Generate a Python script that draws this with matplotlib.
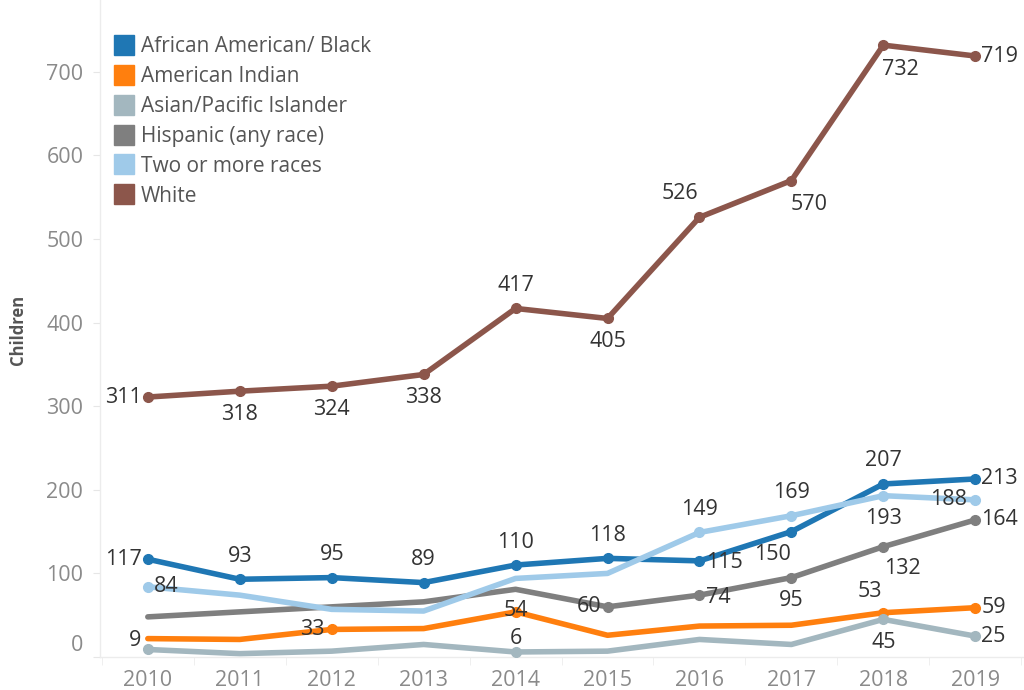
import matplotlib.pyplot as plt
from matplotlib.lines import Line2D
from matplotlib.transforms import ScaledTranslation

plt.rcParams['font.family'] = ['Open Sans', 'DejaVu Sans']

years = [2010, 2011, 2012, 2013, 2014, 2015, 2016, 2017, 2018, 2019]

black = [117, 93, 95, 89, 110, 118, 115, 150, 207, 213]
am_indian = [22, 21, 33, 34, 54, 26, 37, 38, 53, 59]
asian = [9, 4, 7, 15, 6, 7, 21, 15, 45, 25]
hispanic = [48, 54, 60, 66, 81, 60, 74, 95, 132, 164]
two_more = [84, 74, 57, 55, 94, 100, 149, 169, 193, 188]
white = [311, 318, 324, 338, 417, 405, 526, 570, 732, 719]

series_names = ['African American/ Black', 'American Indian', 'Asian/Pacific Islander',
                'Hispanic (any race)', 'Two or more races', 'White']
series_values = [black, am_indian, asian, hispanic, two_more, white]
colors = ['#1f77b4', '#ff7f0e', '#a3b7bf', '#7f7f7f', '#9fcae9', '#8c564b']

# which points carry a label (and a dot), by year index
labelled = {
    'African American/ Black': list(range(10)),
    'American Indian': [2, 4, 8, 9],
    'Asian/Pacific Islander': [0, 4, 8, 9],
    'Hispanic (any race)': [5, 6, 7, 8, 9],
    'Two or more races': [0, 6, 7, 8, 9],
    'White': list(range(10)),
}

# label placement: (dx, dy) in pixels, horizontal alignment
R = (6, 0, 'left')
L = (-6, 0, 'right')
UP = (0, 23, 'center')
DN = (0, -23, 'center')
placement = {
    'African American/ Black': [L, UP, UP, UP, UP, UP, (7, -2, 'left'), (-19, -23, 'center'), UP, R],
    'American Indian': {2: (-7, 0, 'right'), 4: (0, 1, 'center'), 8: (-13, 21, 'center'), 9: R},
    'Asian/Pacific Islander': {0: (-7, 9, 'right'), 4: (0, 13, 'center'), 8: DN, 9: R},
    'Hispanic (any race)': {5: L, 6: (7, -2, 'left'), 7: DN, 8: (19, -22, 'center'), 9: R},
    'Two or more races': {0: R, 6: UP, 7: UP, 8: DN, 9: (-8, 0, 'right')},
    'White': [L, DN, DN, DN, UP, DN, (-20, 24, 'center'), (18, -24, 'center'),
              (17, -24, 'center'), R],
}

fig = plt.figure(figsize=(10.24, 6.9), dpi=100)
ax = fig.add_axes([100 / 1024, 33 / 690, 924 / 1024, 657 / 690])

for name, vals, col in zip(series_names, series_values, colors):
    idx = labelled[name]
    ax.plot(years, vals, color=col, lw=4, solid_capstyle='round', zorder=2)
    ax.plot([years[i] for i in idx], [vals[i] for i in idx], 'o', color=col,
            ms=7, zorder=3)
    pl = placement[name]
    for i in idx:
        dx, dy, ha = pl[i]
        ax.annotate(str(vals[i]), (years[i], vals[i]), xytext=(dx, dy),
                    textcoords='offset pixels', ha=ha, va='center',
                    fontsize=15.5, color='#333333', zorder=4)

ax.set_xlim(2009.48, 2019.53)
ax.set_ylim(0, 786)
ax.set_xticks(years)
ax.set_xticklabels([str(y) for y in years])
ax.set_xticks([y + 0.5 for y in range(2009, 2020)], minor=True)
ax.set_yticks(range(0, 800, 100))

for s in ['top', 'right']:
    ax.spines[s].set_visible(False)
for s in ['left', 'bottom']:
    ax.spines[s].set_color('#ececec')
    ax.spines[s].set_linewidth(1)

ax.tick_params(axis='y', length=5, color='#e6e6e6', labelcolor='#8a8a8a',
               labelsize=15.5, pad=7)
ax.tick_params(axis='x', which='major', length=0, labelcolor='#8a8a8a',
               labelsize=15.5, pad=9)
ax.tick_params(axis='x', which='minor', length=6, color='#ececec')

# Tableau lifts the zero label off the bottom edge
zero_label = ax.yaxis.get_major_ticks()[0].label1
zero_label.set_transform(zero_label.get_transform() +
                         ScaledTranslation(0, 14 / 100, fig.dpi_scale_trans))

fig.text(18 / 1024, 1 - 330 / 690, 'Children', rotation=90, ha='center', va='center',
         fontsize=12, fontweight='bold', color='#555555')

handles = [Line2D([], [], marker='s', ls='none', color=c, markersize=14) for c in colors]
ax.legend(handles, series_names, loc='upper left', bbox_to_anchor=(0.006, 0.958),
          frameon=False, fontsize=15, labelcolor='#555555', handletextpad=0.3,
          labelspacing=0.43, handlelength=1.0, borderaxespad=0)

fig.savefig('out.png', dpi=100)
